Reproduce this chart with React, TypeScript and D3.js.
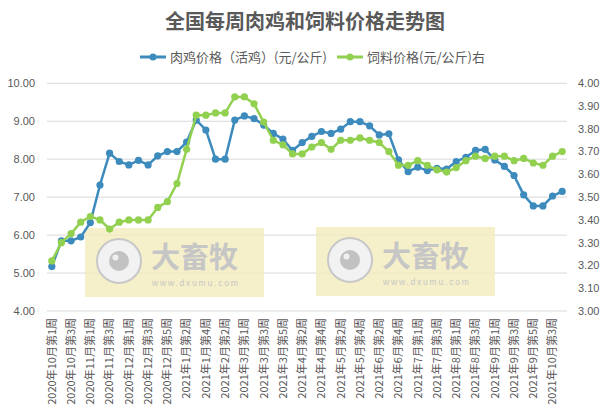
import React from "react";
import * as d3 from "d3";

const categories = [
  "2020年10月第1周","2020年10月第2周","2020年10月第3周","2020年10月第4周",
  "2020年11月第1周","2020年11月第2周","2020年11月第3周","2020年11月第4周",
  "2020年12月第1周","2020年12月第2周","2020年12月第3周","2020年12月第4周","2020年12月第5周",
  "2021年1月第1周","2021年1月第2周","2021年1月第3周","2021年1月第4周",
  "2021年2月第1周","2021年2月第2周","2021年2月第4周",
  "2021年3月第1周","2021年3月第2周","2021年3月第3周","2021年3月第4周","2021年3月第5周",
  "2021年4月第1周","2021年4月第2周","2021年4月第3周","2021年4月第4周",
  "2021年5月第1周","2021年5月第2周","2021年5月第3周","2021年5月第4周",
  "2021年6月第1周","2021年6月第2周","2021年6月第3周","2021年6月第4周","2021年6月第5周",
  "2021年7月第1周","2021年7月第2周","2021年7月第3周","2021年7月第4周",
  "2021年8月第1周","2021年8月第2周","2021年8月第3周","2021年8月第4周",
  "2021年9月第1周","2021年9月第2周","2021年9月第3周","2021年9月第4周","2021年9月第5周",
  "2021年10月第2周","2021年10月第3周","2021年10月第4周",
];

const chickenPrice = [
  5.17, 5.85, 5.85, 5.95, 6.33, 7.32, 8.16, 7.94, 7.85, 7.97, 7.85, 8.09, 8.2, 8.2,
  8.45, 9.03, 8.77, 8.0, 8.0, 9.03, 9.14, 9.07, 8.9, 8.68, 8.53, 8.23, 8.44, 8.6,
  8.73, 8.68, 8.79, 8.99, 8.99, 8.88, 8.64, 8.67, 7.98, 7.67, 7.79, 7.7, 7.76, 7.74,
  7.94, 8.05, 8.23, 8.26, 7.98, 7.81, 7.57, 7.06, 6.77, 6.77, 7.03, 7.15,
];

const feedPrice = [
  3.22, 3.3, 3.34, 3.39, 3.415, 3.4, 3.36, 3.39, 3.4, 3.4, 3.4, 3.455, 3.48, 3.56,
  3.71, 3.86, 3.86, 3.87, 3.87, 3.94, 3.94, 3.91, 3.83, 3.75, 3.73, 3.69, 3.69, 3.72,
  3.74, 3.71, 3.75, 3.75, 3.76, 3.75, 3.74, 3.7, 3.64, 3.64, 3.66, 3.64, 3.62, 3.61,
  3.63, 3.66, 3.68, 3.67, 3.68, 3.68, 3.66, 3.67, 3.65, 3.64, 3.68, 3.7,
];

const leftTicks = [4, 5, 6, 7, 8, 9, 10];
const rightTicks = [3.0, 3.1, 3.2, 3.3, 3.4, 3.5, 3.6, 3.7, 3.8, 3.9, 4.0];

const title = "全国每周肉鸡和饲料价格走势图";
const seriesNames = ["肉鸡价格（活鸡）(元/公斤)", "饲料价格(元/公斤)右"];

const W = 609;
const H = 417;
const BLUE = "#3d8bbd";
const GREEN = "#92d050";
const TEXT = "#595959";
const CJK = "'Noto Sans CJK SC', 'Noto Sans', sans-serif";
const NUM = "'Liberation Sans', Arial, sans-serif";

function Watermark({ x, y }: { x: number; y: number }) {
  const cx = x + 34;
  const cy = y + 33;
  return (
    <g>
      <rect x={x} y={y} width={179} height={69} fill="#f3ecbc" opacity={0.8} />
      <circle cx={cx} cy={cy} r={22} fill="#f2f2f2" stroke="#c8c8c8" strokeWidth={2} />
      <circle cx={cx} cy={cy} r={10} fill="#c2c2c2" />
      <circle cx={cx - 3.5} cy={cy - 3.5} r={3} fill="#f0f0f0" />
      <text x={x + 66} y={y + 40} fontFamily={CJK} fontWeight={700} fontSize={29} fill="#c6c6c6">
        大畜牧
      </text>
      <text x={x + 67} y={y + 58} fontFamily={NUM} fontSize={8.5} letterSpacing={1.8} fill="#c6c6c6">
        www.dxumu.com
      </text>
    </g>
  );
}

export default function App() {
  const x = d3.scaleBand<string>().domain(categories).range([47, 567]);
  const bw = x.bandwidth();
  const cxOf = (i: number) => (x(categories[i]) as number) + bw / 2;
  const yL = d3.scaleLinear().domain([4, 10]).range([311, 83.3]);
  const yR = d3.scaleLinear().domain([3, 4]).range([311, 83.3]);

  const lineL = d3
    .line<number>()
    .x((_, i) => cxOf(i))
    .y((d) => yL(d));
  const lineR = d3
    .line<number>()
    .x((_, i) => cxOf(i))
    .y((d) => yR(d));

  return (
    <svg
      width={W}
      height={H}
      style={{ position: "absolute", left: 0, top: 0, background: "#fff" }}
    >
      <rect width={W} height={H} fill="#fff" />
      <text
        x={305}
        y={29}
        textAnchor="middle"
        fontFamily={CJK}
        fontWeight={700}
        fontSize={20}
        fill={TEXT}
      >
        {title}
      </text>

      {/* legend */}
      <g>
        <line x1={140} x2={166} y1={57} y2={57} stroke={BLUE} strokeWidth={3} />
        <circle cx={153} cy={57} r={3.5} fill={BLUE} />
        <text x={170} y={57} dy="0.35em" fontFamily={CJK} fontSize={13} fill={TEXT}>
          {seriesNames[0]}
        </text>
        <line x1={337} x2={363} y1={57} y2={57} stroke={GREEN} strokeWidth={3} />
        <circle cx={350} cy={57} r={3.5} fill={GREEN} />
        <text x={367} y={57} dy="0.35em" fontFamily={CJK} fontSize={13} fill={TEXT}>
          {seriesNames[1]}
        </text>
      </g>

      {/* gridlines */}
      {leftTicks.map((t) => (
        <line key={t} x1={47} x2={567} y1={yL(t)} y2={yL(t)} stroke="#d9d9d9" strokeWidth={1} />
      ))}

      {/* left axis labels */}
      {leftTicks.map((t) => (
        <text
          key={"l" + t}
          x={35}
          y={yL(t)}
          dy="0.35em"
          textAnchor="end"
          fontFamily={NUM}
          fontSize={11}
          fill={TEXT}
        >
          {t.toFixed(2)}
        </text>
      ))}

      {/* right axis labels */}
      {rightTicks.map((t) => (
        <text
          key={"r" + t}
          x={578}
          y={yR(t)}
          dy="0.35em"
          textAnchor="start"
          fontFamily={NUM}
          fontSize={11}
          fill={TEXT}
        >
          {t.toFixed(2)}
        </text>
      ))}

      {/* x labels */}
      {categories.map((c, i) =>
        i % 2 === 0 ? (
          <text
            key={c}
            transform={`translate(${cxOf(i)},318) rotate(-90)`}
            dy="0.35em"
            textAnchor="end"
            fontFamily={CJK}
            fontSize={11}
            fill={TEXT}
          >
            {c}
          </text>
        ) : null
      )}

      <Watermark x={85} y={228} />
      <Watermark x={316} y={227} />

      {/* series */}
      <path d={lineL(chickenPrice) || ""} fill="none" stroke={BLUE} strokeWidth={2.5} strokeLinejoin="round" />
      {chickenPrice.map((v, i) => (
        <circle key={"b" + i} cx={cxOf(i)} cy={yL(v)} r={3.6} fill={BLUE} />
      ))}
      <path d={lineR(feedPrice) || ""} fill="none" stroke={GREEN} strokeWidth={2.5} strokeLinejoin="round" />
      {feedPrice.map((v, i) => (
        <circle key={"g" + i} cx={cxOf(i)} cy={yR(v)} r={3.6} fill={GREEN} />
      ))}
    </svg>
  );
}
